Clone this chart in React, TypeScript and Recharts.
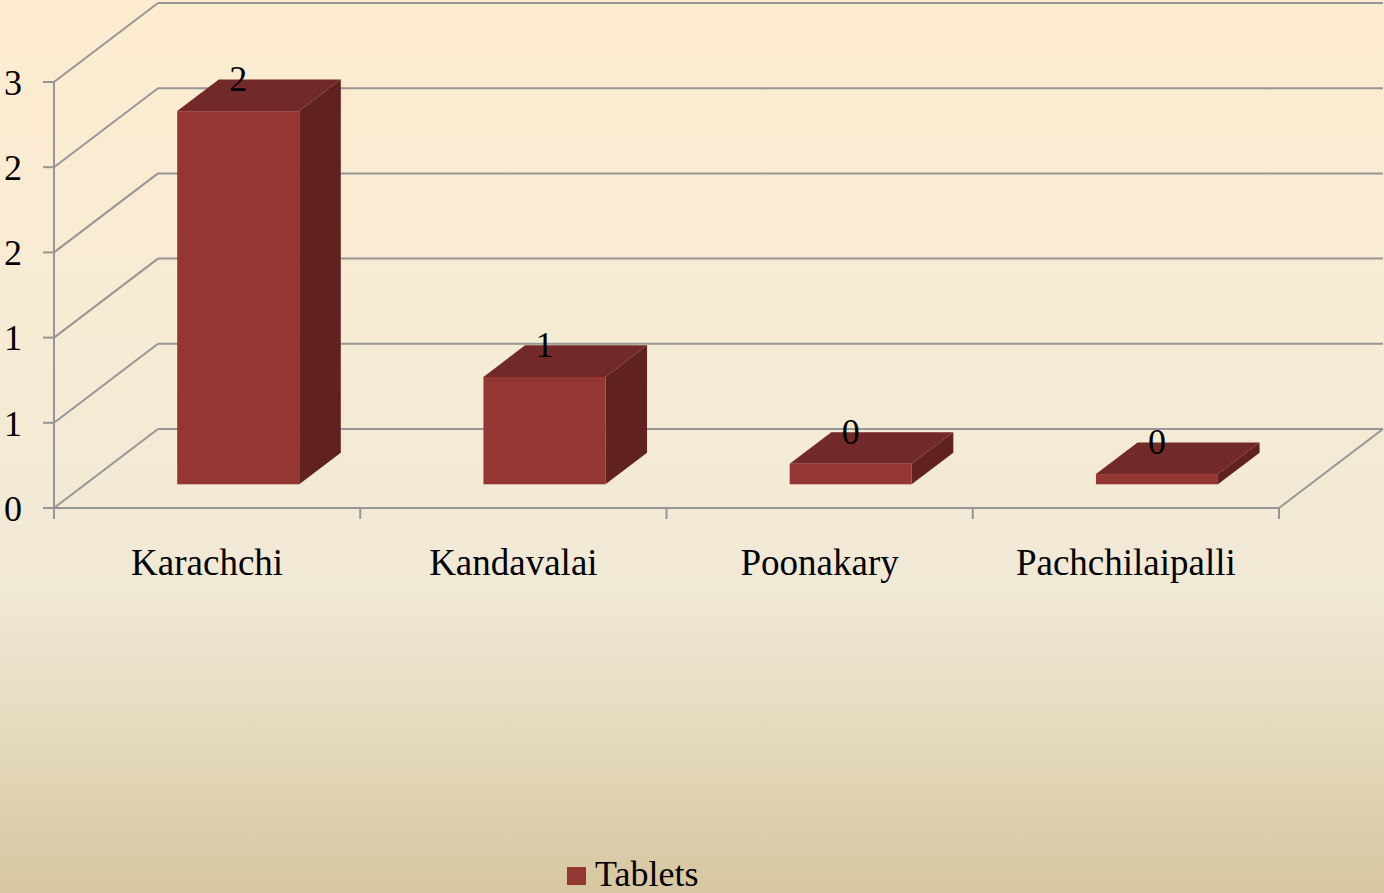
import { BarChart, Bar, XAxis, YAxis, CartesianGrid, Legend, LabelList } from 'recharts';

const categories = ['Karachchi', 'Kandavalai', 'Poonakary', 'Pachchilaipalli'];
const tablets = [2.19, 0.63, 0.12, 0.06];
const yTicks = [0, 0.5, 1, 1.5, 2, 2.5];

const data = categories.map((name, i) => ({ name, tablets: tablets[i] }));

// depth of the 3d box, in px
const DX = 104;
const DY = 79;
const FONT = '"Liberation Serif", "Times New Roman", serif';
const GRID = '#969696';

const FRONT = '#943634';
const TOP = '#722929';
const SIDE = '#612121';

// bar sits between 30% and 70% of the depth
function Box3D(props: any) {
  const { x, y, width, height } = props;
  const fx = x + DX * 0.3;
  const fy = y - DY * 0.3;
  const dx = DX * 0.4;
  const dy = DY * 0.4;
  const r = fx + width;
  return (
    <g>
      <polygon points={`${fx},${fy} ${fx + dx},${fy - dy} ${r + dx},${fy - dy} ${r},${fy}`} fill={TOP} />
      <polygon points={`${r},${fy} ${r + dx},${fy - dy} ${r + dx},${fy + height - dy} ${r},${fy + height}`} fill={SIDE} />
      <rect x={fx} y={fy} width={width} height={height} fill={FRONT} />
    </g>
  );
}

function ValueLabel(props: any) {
  const { x, y, width, value } = props;
  return (
    <text
      x={x + width / 2 + DX * 0.3}
      y={y - DY * 0.3 - 20}
      textAnchor="middle"
      fontSize={36}
      fontFamily={FONT}
      fill="#000"
    >
      {Math.round(value)}
    </text>
  );
}

// wall lines: side wall oblique + back wall line for each y tick
function WallLine(props: any) {
  const { x1, y1, x2, index } = props;
  return (
    <g key={`wall-${index}`}>
      <line x1={x1} y1={y1} x2={x1 + DX} y2={y1 - DY} stroke={GRID} strokeWidth={2} />
      <line x1={x1 + DX} y1={y1 - DY} x2={x2 + DX} y2={y1 - DY} stroke={GRID} strokeWidth={2} />
    </g>
  );
}

function CategoryTick(props: any) {
  const { x, y, payload, index } = props;
  const half = payload?.offset ?? 153;
  const axisY = y - 11;
  const last = index === categories.length - 1;
  return (
    <g>
      <line x1={x - half} y1={axisY} x2={x - half} y2={axisY + 11} stroke={GRID} strokeWidth={2} />
      {last && (
        <>
          <line x1={x + half} y1={axisY} x2={x + half} y2={axisY + 11} stroke={GRID} strokeWidth={2} />
          <line x1={x + half} y1={axisY} x2={x + half + DX} y2={axisY - DY} stroke={GRID} strokeWidth={2} />
        </>
      )}
      <text x={x} y={axisY + 67} textAnchor="middle" fontSize={37} fontFamily={FONT} fill="#000">
        {payload.value}
      </text>
    </g>
  );
}

function LegendBox() {
  return (
    <div style={{ display: 'flex', alignItems: 'center', fontFamily: FONT, fontSize: 36, color: '#000' }}>
      <span style={{ display: 'inline-block', width: 19, height: 18, background: FRONT, marginRight: 9, marginTop: 4 }} />
      <span>Tablets</span>
    </div>
  );
}

export default function App() {
  return (
    <div
      style={{
        width: 1384,
        height: 893,
        position: 'relative',
        overflow: 'hidden',
        background: 'linear-gradient(180deg, #fdecd0 0%, #f6ebd4 40%, #f0e9d6 66%, #e4dabd 82%, #d7c7a1 100%)',
      }}
    >
      <style>{'body{margin:0}'}</style>
      <BarChart
        width={1384}
        height={893}
        data={data}
        margin={{ top: 82, right: 105, bottom: 325, left: 0 }}
      >
        <CartesianGrid vertical={false} horizontal={(p: any) => <WallLine {...p} />} />
        <XAxis
          dataKey="name"
          height={60}
          axisLine={{ stroke: GRID, strokeWidth: 2 }}
          tickLine={false}
          tickSize={11}
          tickMargin={0}
          interval={0}
          tick={<CategoryTick />}
        />
        <YAxis
          width={54}
          domain={[0, 2.5]}
          ticks={yTicks}
          interval={0}
          tickFormatter={(v: number) => String(Math.round(v))}
          axisLine={{ stroke: GRID, strokeWidth: 2 }}
          tickLine={{ stroke: GRID, strokeWidth: 2 }}
          tickSize={11}
          tickMargin={21}
          tick={{ fill: '#000', fontSize: 36, fontFamily: FONT }}
        />
        <Legend
          verticalAlign="middle"
          layout="horizontal"
          content={<LegendBox />}
          wrapperStyle={{ left: 567, top: 853, width: 300, height: 40 }}
        />
        <Bar dataKey="tablets" barSize={122} shape={<Box3D />} isAnimationActive={false}>
          <LabelList dataKey="tablets" content={<ValueLabel />} />
        </Bar>
      </BarChart>
    </div>
  );
}
